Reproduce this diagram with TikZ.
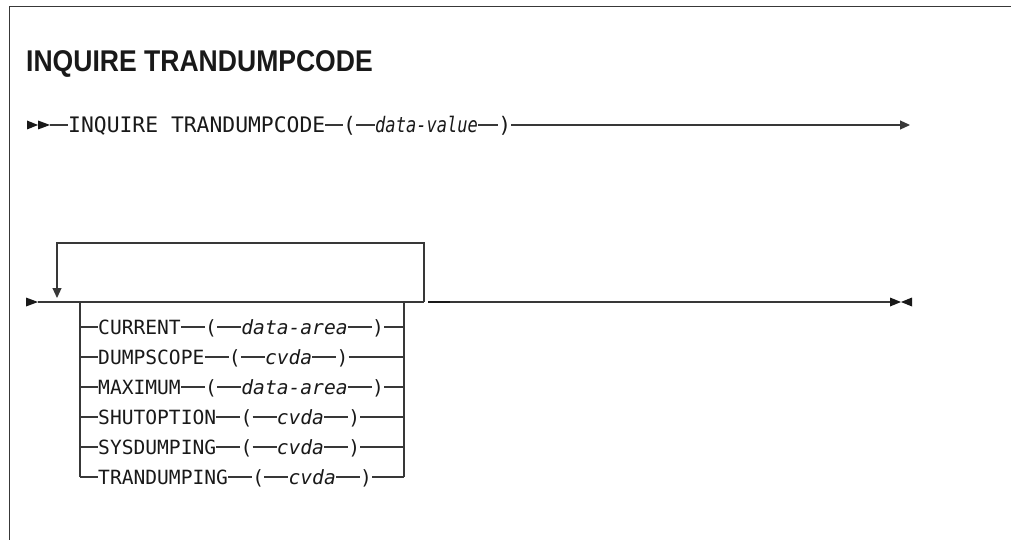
\documentclass[tikz,border=0pt]{standalone}
\usepackage{fontspec}
\newfontfamily\titlefont{Liberation Sans}[FakeStretch=0.885]
\newfontfamily\monofont{DejaVu Sans Mono}
\newfontfamily\mononarrow{DejaVu Sans Mono}[FakeStretch=0.8]
\usetikzlibrary{positioning,arrows.meta}
\definecolor{lncol}{gray}{0.22}
\definecolor{txcol}{gray}{0.1}
\begin{document}
\begin{tikzpicture}[x=1pt,y=-1pt,
  ln/.style={draw=lncol,line width=1.1pt},
  frame/.style={draw=lncol,line width=1.5pt},
  head/.style={fill=txcol},
  kwA/.style={font=\monofont\fontsize{21.35}{24}\selectfont,text=txcol,inner sep=0pt,text height=15.6pt,text depth=0pt,anchor=west},
  vaA/.style={kwA,font=\mononarrow\itshape\fontsize{21.35}{24}\selectfont},
  kwB/.style={font=\monofont\fontsize{19.6}{22}\selectfont,text=txcol,inner sep=0pt,text height=14.3pt,text depth=0pt,anchor=west},
  vaB/.style={kwB,font=\monofont\itshape\fontsize{19.6}{22}\selectfont},
  titlestyle/.style={font=\titlefont\bfseries\fontsize{30}{34}\selectfont,text=txcol,inner sep=0pt,anchor=base west}
]
\useasboundingbox (0,0) rectangle (1011,540);
% frame
\draw[frame] (9.5,540) -- (9.5,6.5) -- (1011,6.5);
% title
\node[titlestyle] (title) at (26,72) {INQUIRE TRANDUMPCODE};

% ---------- line 1 ----------
\coordinate (s1) at (50,125);
\fill[head] (27,120.5) -- (38,125) -- (27,129.5) -- cycle;
\fill[head] (38,120.5) -- (50,125) -- (38,129.5) -- cycle;
\node[kwA] (inq) at (68,125) {INQUIRE TRANDUMPCODE};
\node[kwA] (lp1) at (343,125) {(};
\node[vaA] (dv) at (375,125) {data-value};
\node[kwA,right=20pt of dv] (rp1) {)};
\coordinate (e1) at (910,125);
\draw[ln] (s1) -- (inq);
\draw[ln] (inq) -- (lp1);
\draw[ln] (lp1) -- (dv);
\draw[ln] (dv) -- (rp1);
\draw[ln,-{Triangle[length=10pt,width=9pt]}] (rp1) -- (e1);

% ---------- line 2 ----------
\coordinate (m0) at (38,302);
\fill[head] (26,297.5) -- (38,302) -- (26,306.5) -- cycle;
\coordinate (bl) at (80,302);
\coordinate (br) at (404,302);
\coordinate (lr) at (424,302);
\coordinate (lt) at (424,243);
\coordinate (ltl) at (57,243);
\coordinate (la) at (57,298);
\coordinate (d0) at (428,302);
\coordinate (d1) at (450,302);
\coordinate (m9) at (890,302);
\draw[ln] (m0) -- (lr);
\draw[ln,-{Triangle[length=10pt,width=9pt]}] (lr) -- (lt) -- (ltl) -- (la);
\draw[draw=txcol,line width=2.4pt] (d0) -- (d1);
\draw[ln] (d1) -- (m9);
\fill[head] (890,297.5) -- (901,302) -- (890,306.5) -- cycle;
\fill[head] (912,297.5) -- (901,302) -- (912,306.5) -- cycle;

% branch rows
\foreach \i/\kw/\arg/\y in {1/CURRENT/data-area/327, 2/DUMPSCOPE/cvda/357, 3/MAXIMUM/data-area/387, 4/SHUTOPTION/cvda/417, 5/SYSDUMPING/cvda/447, 6/TRANDUMPING/cvda/477}{
  \coordinate (L\i) at (80,\y);
  \coordinate (R\i) at (404,\y);
  \node[kwB] (k\i) at (98,\y) {\kw};
  \node[kwB,right=24pt of k\i] (p\i) {(};
  \node[vaB,right=24pt of p\i] (a\i) {\arg};
  \node[kwB,right=24pt of a\i] (q\i) {)};
  \draw[ln] (L\i) -- (k\i);
  \draw[ln] (k\i) -- (p\i);
  \draw[ln] (p\i) -- (a\i);
  \draw[ln] (a\i) -- (q\i);
  \draw[ln] (q\i) -- (R\i);
}
\draw[ln] (bl) -- (L6);
\draw[ln] (br) -- (R6);
\end{tikzpicture}
\end{document}
